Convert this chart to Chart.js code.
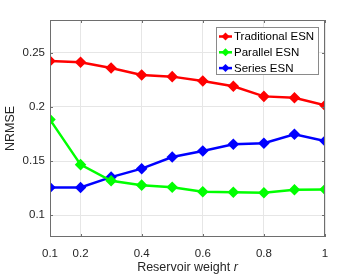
<!DOCTYPE html>
<html>
<head>
<meta charset="utf-8">
<script src="https://cdn.jsdelivr.net/npm/chart.js@4"></script>
<style>
  html, body { margin: 0; padding: 0; background: #fff; }
  #wrap { width: 360px; height: 277px; position: relative; }
</style>
</head>
<body>
<div id="wrap"><canvas id="nrmseChart" width="360" height="277"></canvas></div>
<script>
// reservoir weight r
var weights = [0.1, 0.2, 0.3, 0.4, 0.5, 0.6, 0.7, 0.8, 0.9, 1.0];
var traditional = [0.2423, 0.2411, 0.2358, 0.2294, 0.2278, 0.2238, 0.2189, 0.2096, 0.2083, 0.2013];
var parallel = [0.1882, 0.1467, 0.1318, 0.1278, 0.1259, 0.1217, 0.1213, 0.1207, 0.1235, 0.1238];
var series = [0.1256, 0.1256, 0.1352, 0.1430, 0.1537, 0.1593, 0.1655, 0.1664, 0.1747, 0.1685];
var xTicks = [0.1, 0.2, 0.4, 0.6, 0.8, 1];
var yTicks = [0.1, 0.15, 0.2, 0.25];
var seriesNames = ['Traditional ESN', 'Parallel ESN', 'Series ESN'];
var seriesColors = ['#ff0000', '#00ff00', '#0000ff'];

var FONT = '"Liberation Sans", Arial, sans-serif';
var TEXT = '#262626';

function pts(vals) {
  return weights.map(function(w, i) { return { x: w, y: vals[i] }; });
}

function ds(i, vals) {
  return {
    label: seriesNames[i],
    data: pts(vals),
    borderColor: seriesColors[i],
    backgroundColor: seriesColors[i],
    borderWidth: 2.5,
    pointStyle: 'rectRot',
    pointRadius: 4,
    pointHoverRadius: 4,
    tension: 0
  };
}

// frame, inward ticks, legend box and the x title with italic r
var decor = {
  id: 'decor',
  afterDraw: function(chart) {
    var c = chart.ctx, a = chart.chartArea;
    var xs = chart.scales.x, ys = chart.scales.y;
    c.save();
    c.strokeStyle = '#6e6e6e';
    c.lineWidth = 1;
    c.strokeRect(a.left + 0.5, a.top + 0.5, a.right - a.left - 1, a.bottom - a.top - 1);
    c.beginPath();
    xTicks.forEach(function(t) {
      var px = Math.round(xs.getPixelForValue(t)) + 0.5;
      c.moveTo(px, a.bottom); c.lineTo(px, a.bottom - 3);
      c.moveTo(px, a.top); c.lineTo(px, a.top + 3);
    });
    yTicks.forEach(function(t) {
      var py = Math.round(ys.getPixelForValue(t)) + 0.5;
      c.moveTo(a.left, py); c.lineTo(a.left + 3, py);
      c.moveTo(a.right, py); c.lineTo(a.right - 3, py);
    });
    c.stroke();

    // legend
    var lx = 216, ly = 27, lw = 103, lh = 48;
    c.fillStyle = '#fff';
    c.fillRect(lx, ly, lw, lh);
    c.strokeStyle = '#8a8a8a';
    c.strokeRect(lx + 0.5, ly + 0.5, lw - 1, lh - 1);
    c.font = '11.5px ' + FONT;
    c.textBaseline = 'middle';
    c.textAlign = 'left';
    seriesNames.forEach(function(name, i) {
      var y = ly + 9.5 + i * 15.8;
      c.strokeStyle = seriesColors[i];
      c.fillStyle = seriesColors[i];
      c.lineWidth = 2.5;
      c.beginPath(); c.moveTo(219, y); c.lineTo(232, y); c.stroke();
      c.beginPath();
      c.moveTo(225.5, y - 4); c.lineTo(229.5, y); c.lineTo(225.5, y + 4); c.lineTo(221.5, y);
      c.closePath(); c.fill();
      c.fillStyle = '#000';
      c.fillText(name, 234, y + 0.5);
    });

    // x axis title
    c.fillStyle = TEXT;
    c.font = '12.5px ' + FONT;
    var t1 = 'Reservoir weight ', t2 = 'r';
    var w1 = c.measureText(t1).width;
    c.font = 'italic 12.5px ' + FONT;
    var w2 = c.measureText(t2).width;
    var x0 = (a.left + a.right) / 2 - (w1 + w2) / 2;
    c.textAlign = 'left';
    c.textBaseline = 'middle';
    c.font = '12.5px ' + FONT;
    c.fillText(t1, x0, 268);
    c.font = 'italic 12.5px ' + FONT;
    c.fillText(t2, x0 + w1, 268);
    c.restore();
  }
};

var ctx = document.getElementById('nrmseChart').getContext('2d');
var nrmseChart = new Chart(ctx, {
  type: 'line',
  data: {
    datasets: [ds(0, traditional), ds(1, parallel), ds(2, series)]
  },
  options: {
    responsive: false,
    animation: false,
    layout: { padding: { left: 0, right: 35, top: 20, bottom: 0 } },
    plugins: {
      legend: { display: false },
      tooltip: { enabled: false }
    },
    scales: {
      x: {
        type: 'linear',
        min: 0.1,
        max: 1,
        afterBuildTicks: function(s) { s.ticks = xTicks.map(function(v) { return { value: v }; }); },
        afterFit: function(s) { s.height = 40; },
        border: { display: false },
        grid: { color: '#e6e6e6', drawTicks: false },
        ticks: {
          padding: 10,
          maxRotation: 0,
          color: TEXT,
          font: { family: FONT, size: 11.5 },
          callback: function(v) { return String(Math.round(v * 10) / 10); }
        }
      },
      y: {
        min: 0.08,
        max: 0.28,
        afterBuildTicks: function(s) { s.ticks = yTicks.map(function(v) { return { value: v }; }); },
        afterFit: function(s) { s.width = 50; },
        border: { display: false },
        grid: { color: '#e6e6e6', drawTicks: false },
        title: {
          display: true,
          text: 'NRMSE',
          color: TEXT,
          padding: { top: 3, bottom: 4 },
          font: { family: FONT, size: 12.5 }
        },
        ticks: {
          padding: 5,
          color: TEXT,
          font: { family: FONT, size: 11.5 },
          callback: function(v) { return String(Math.round(v * 100) / 100); }
        }
      }
    }
  },
  plugins: [decor]
});
</script>
</body>
</html>
